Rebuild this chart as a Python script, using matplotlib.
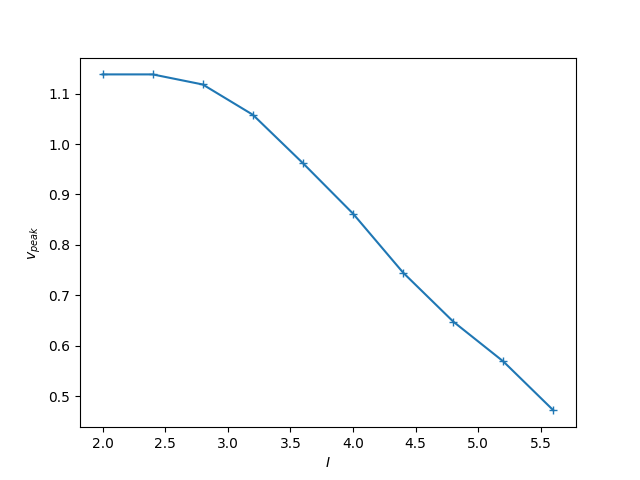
import matplotlib
matplotlib.use("Agg")
import matplotlib.pyplot as plt

I_vals = [2.0, 2.4, 2.8, 3.2, 3.6, 4.0, 4.4, 4.8, 5.2, 5.6]
v_peak = [1.138, 1.138, 1.118, 1.058, 0.962, 0.862, 0.745, 0.648, 0.569, 0.472]

fig, ax = plt.subplots(figsize=(6.4, 4.8), dpi=100)
ax.plot(I_vals, v_peak, marker="+", color="#1f77b4")
ax.set_xlabel("$I$")
ax.set_ylabel("$v_{peak}$")
fig.savefig("out.png")
